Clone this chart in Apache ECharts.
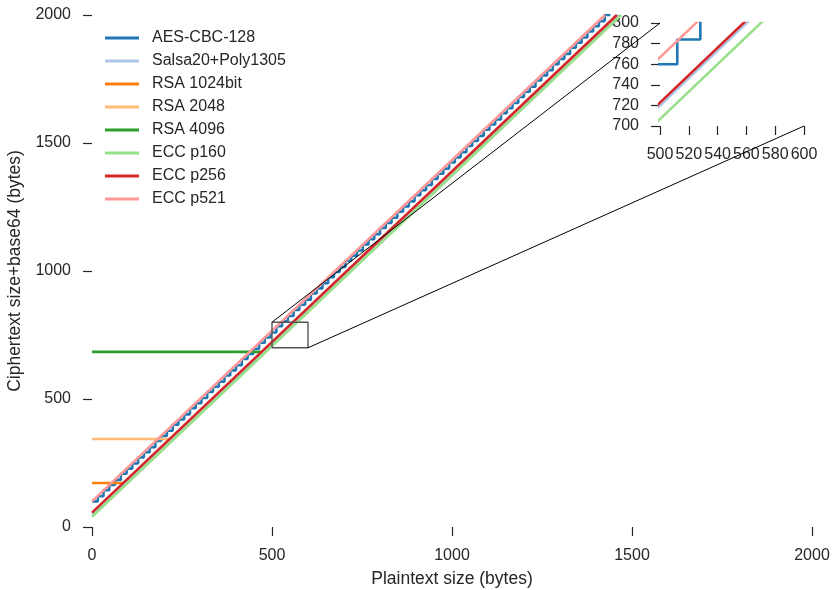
<!DOCTYPE html>
<html>
<head>
<meta charset="utf-8">
<script src="https://cdn.jsdelivr.net/npm/echarts@6/dist/echarts.min.js"></script>
<style>
  html, body { margin: 0; padding: 0; background: #fff; }
  #chart { width: 832px; height: 590px; }
</style>
</head>
<body>
<div id="chart"></div>
<script>
// series names and colours (tab20 pairs)
var names = ['AES-CBC-128', 'Salsa20+Poly1305', 'RSA 1024bit', 'RSA 2048', 'RSA 4096', 'ECC p160', 'ECC p256', 'ECC p521'];
var colors = ['#1f77b4', '#aec7e8', '#ff7f0e', '#ffbb78', '#2ca02c', '#98df8a', '#d62728', '#ff9896'];

// AES-CBC-128 is a staircase, one step per 16 byte block
var aesX = [0, 16, 32, 48, 64, 80, 96, 112, 128, 144, 160, 176, 192, 208, 224, 240,
  256, 272, 288, 304, 320, 336, 352, 368, 384, 400, 416, 432, 448, 464, 480, 496,
  512, 528, 544, 560, 576, 592, 608, 624, 640, 656, 672, 688, 704, 720, 736, 752,
  768, 784, 800, 816, 832, 848, 864, 880, 896, 912, 928, 944, 960, 976, 992, 1008,
  1024, 1040, 1056, 1072, 1088, 1104, 1120, 1136, 1152, 1168, 1184, 1200, 1216, 1232,
  1248, 1264, 1280, 1296, 1312, 1328, 1344, 1360, 1376, 1392, 1408, 1424, 1440];
var aesY = [100, 120, 144, 164, 184, 208, 228, 248, 272, 292, 312, 336, 356, 376, 400, 420,
  440, 464, 484, 504, 528, 548, 568, 592, 612, 632, 656, 676, 696, 720, 740, 760,
  784, 804, 824, 848, 868, 888, 912, 932, 952, 976, 996, 1016, 1040, 1060, 1080, 1104,
  1124, 1144, 1168, 1188, 1208, 1232, 1252, 1272, 1296, 1316, 1336, 1360, 1380, 1400, 1424, 1444,
  1464, 1488, 1508, 1528, 1552, 1572, 1592, 1616, 1636, 1656, 1680, 1700, 1720, 1744,
  1764, 1784, 1808, 1828, 1848, 1872, 1892, 1912, 1936, 1956, 1976, 2000, 2000];

// straight lines: start and end points
var salsaX = [0, 1460];   var salsaY = [53, 2000];
var rsa1024X = [0, 86];   var rsa1024Y = [172, 172];
var rsa2048X = [0, 214];  var rsa2048Y = [344, 344];
var rsa4096X = [0, 470];  var rsa4096Y = [684, 684];
var p160X = [0, 1470];    var p160Y = [40, 2000];
var p256X = [0, 1458];    var p256Y = [56, 2000];
var p521X = [0, 1425];    var p521Y = [100, 2000];

// zoomed region shown in the inset
var zoomX = [500, 600];
var zoomY = [700, 800];

var xTicks = 500, yTicks = 500, insetTicks = 20;

function pairs(xs, ys) {
  return xs.map(function (x, i) { return [x, ys[i]]; });
}

var lineData = [
  pairs(aesX, aesY), pairs(salsaX, salsaY), pairs(rsa1024X, rsa1024Y),
  pairs(rsa2048X, rsa2048Y), pairs(rsa4096X, rsa4096Y),
  pairs(p160X, p160Y), pairs(p256X, p256Y), pairs(p521X, p521Y)
];

var font = 'Liberation Sans, Arial, sans-serif';
var ink = '#262626';

var myChart = echarts.init(document.getElementById('chart'), null, { renderer: 'canvas' });

function plain(v) { return String(v); }

function axisCommon(extra) {
  var a = {
    type: 'value',
    axisLine: { show: false },
    axisTick: { show: true, length: 9, lineStyle: { color: ink, width: 1.2 } },
    splitLine: { show: false },
    nameTextStyle: { color: ink, fontSize: 17.5, fontFamily: font }
  };
  for (var k in extra) a[k] = extra[k];
  return a;
}

function labels(margin) {
  return { color: ink, fontSize: 16, fontFamily: font, margin: margin, formatter: plain };
}

var series = [];
// main chart lines then inset lines
[0, 1].forEach(function (g) {
  lineData.forEach(function (d, i) {
    series.push({
      name: names[i],
      type: 'line',
      xAxisIndex: g,
      yAxisIndex: g,
      data: d,
      step: i === 0 ? 'end' : false,
      showSymbol: false,
      symbol: 'none',
      clip: true,
      silent: true,
      animation: false,
      lineStyle: { color: colors[i], width: 2.6 },
      itemStyle: { color: colors[i] }
    });
  });
});
// box around the zoomed region
series.push({
  name: 'zoom box',
  type: 'line',
  xAxisIndex: 0,
  yAxisIndex: 0,
  data: [[zoomX[0], zoomY[0]], [zoomX[1], zoomY[0]], [zoomX[1], zoomY[1]], [zoomX[0], zoomY[1]], [zoomX[0], zoomY[0]]],
  showSymbol: false,
  symbol: 'none',
  silent: true,
  animation: false,
  z: 5,
  lineStyle: { color: '#555555', width: 1.4 }
});

var option = {
  backgroundColor: '#fff',
  animation: false,
  textStyle: { fontFamily: font },
  legend: {
    orient: 'vertical',
    left: 105,
    top: 30,
    padding: 0,
    data: names,
    icon: 'rect',
    itemWidth: 34,
    itemHeight: 3,
    itemGap: 7,
    selectedMode: false,
    textStyle: { color: ink, fontSize: 16, lineHeight: 16, fontFamily: font, padding: [0, 0, 0, 8] }
  },
  grid: [
    { left: 92, top: 15, width: 720, height: 512, containLabel: false, outerBoundsMode: 'none' },
    { left: 660, top: 23, width: 144, height: 103, containLabel: false, outerBoundsMode: 'none', backgroundColor: '#fff', show: true, borderWidth: 0 }
  ],
  xAxis: [
    axisCommon({ gridIndex: 0, min: 0, max: 2000, interval: xTicks, name: 'Plaintext size (bytes)', nameLocation: 'middle', nameGap: 43, axisLabel: labels(21) }),
    axisCommon({ gridIndex: 1, min: zoomX[0], max: zoomX[1], interval: insetTicks, axisLabel: labels(21) })
  ],
  yAxis: [
    axisCommon({ gridIndex: 0, min: 0, max: 2000, interval: yTicks, name: 'Ciphertext size+base64 (bytes)', nameLocation: 'middle', nameGap: 65, axisLabel: labels(21) }),
    axisCommon({ gridIndex: 1, min: zoomY[0], max: zoomY[1], interval: insetTicks, axisLabel: labels(21) })
  ],
  series: series
};

myChart.setOption(option);

// connector lines from the zoom box to the inset corners
var a1 = myChart.convertToPixel({ gridIndex: 0 }, [zoomX[0], zoomY[1]]);
var b1 = myChart.convertToPixel({ gridIndex: 1 }, [zoomX[0], zoomY[1]]);
var a2 = myChart.convertToPixel({ gridIndex: 0 }, [zoomX[1], zoomY[0]]);
var b2 = myChart.convertToPixel({ gridIndex: 1 }, [zoomX[1], zoomY[0]]);
myChart.setOption({
  graphic: [
    { type: 'line', silent: true, z: 50, shape: { x1: a1[0], y1: a1[1], x2: b1[0], y2: b1[1] }, style: { stroke: '#000', lineWidth: 1 } },
    { type: 'line', silent: true, z: 50, shape: { x1: a2[0], y1: a2[1], x2: b2[0], y2: b2[1] }, style: { stroke: '#000', lineWidth: 1 } }
  ]
});
</script>
</body>
</html>
